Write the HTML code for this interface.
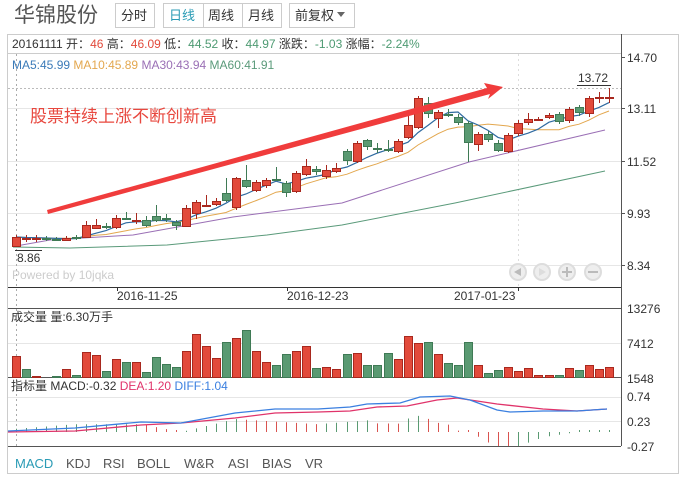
<!DOCTYPE html>
<html><head><meta charset="utf-8"><style>
body{margin:0;background:#fff;font-family:"Liberation Sans","Noto Sans CJK SC",sans-serif;}
svg{display:block}
</style></head><body>
<svg id="s" width="684" height="483" xmlns="http://www.w3.org/2000/svg" font-family="Liberation Sans, Noto Sans CJK SC, sans-serif">
<rect width="684" height="483" fill="#fff"/>
<text x="14" y="22" font-size="21" fill="#555">华锦股份</text>
<g font-size="13" fill="#333">
<rect x="115.5" y="3.5" width="39" height="24" fill="#fff" stroke="#ccc"/><text x="121" y="20">分时</text>
<rect x="163.5" y="3.5" width="118" height="24" fill="#fff" stroke="#ccc"/>
<line x1="203.5" y1="4" x2="203.5" y2="27" stroke="#ccc"/><line x1="242.5" y1="4" x2="242.5" y2="27" stroke="#ccc"/>
<text x="169" y="20" fill="#2a9bb5">日线</text><text x="208" y="20">周线</text><text x="248" y="20">月线</text>
<rect x="289.5" y="3.5" width="65" height="24" fill="#fff" stroke="#ccc"/><text x="295" y="20">前复权</text>
<path d="M337 12 L345 12 L341 17 Z" fill="#666"/>
</g>
<rect x="7.5" y="34.5" width="671" height="439" fill="none" stroke="#ccc"/>
<line x1="8" y1="53.5" x2="621" y2="53.5" stroke="#ccc"/>
<line x1="621.5" y1="34" x2="621.5" y2="446" stroke="#555"/>
<text x="12" y="48" font-size="12" fill="#333">20161111 开：<tspan fill="#e24a3b">46</tspan> 高：<tspan fill="#e24a3b">46.09</tspan> 低：<tspan fill="#4d9a72">44.52</tspan> 收：<tspan fill="#4d9a72">44.97</tspan> 涨跌：<tspan fill="#4d9a72">-1.03</tspan> 涨幅：<tspan fill="#4d9a72">-2.24%</tspan></text>
<text x="12" y="69" font-size="12"><tspan fill="#3a7ab8">MA5:45.99</tspan> <tspan fill="#e3a74e">MA10:45.89</tspan> <tspan fill="#9a6fb5">MA30:43.94</tspan> <tspan fill="#5a9a7a">MA60:41.91</tspan></text>
<g stroke="#e6e6e6"><line x1="8" y1="108.5" x2="621" y2="108.5"/><line x1="8" y1="161.5" x2="621" y2="161.5"/><line x1="8" y1="213.5" x2="621" y2="213.5"/><line x1="8" y1="265.5" x2="621" y2="265.5"/><line x1="8" y1="343.5" x2="621" y2="343.5"/><line x1="8" y1="397.5" x2="621" y2="397.5"/><line x1="8" y1="421.5" x2="621" y2="421.5"/></g>
<line x1="8" y1="88.5" x2="621" y2="88.5" stroke="#bbb" stroke-dasharray="2,2"/>
<line x1="16.5" y1="54" x2="16.5" y2="446" stroke="#aaa" stroke-dasharray="2,3"/>
<line x1="518.5" y1="54" x2="518.5" y2="287" stroke="#ddd" stroke-dasharray="2,3"/>
<g font-size="12" fill="#333">
<line x1="621" y1="57.5" x2="625" y2="57.5" stroke="#555"/><text x="627" y="62">14.70</text>
<line x1="621" y1="108.5" x2="625" y2="108.5" stroke="#555"/><text x="627" y="113">13.11</text>
<line x1="621" y1="161.5" x2="625" y2="161.5" stroke="#555"/><text x="627" y="166">11.52</text>
<line x1="621" y1="213.5" x2="625" y2="213.5" stroke="#555"/><text x="627" y="218">9.93</text>
<line x1="621" y1="265.5" x2="625" y2="265.5" stroke="#555"/><text x="627" y="270">8.34</text>
<text x="627" y="313">13276</text><text x="627" y="348">7412</text><text x="627" y="383">1548</text>
<text x="627" y="401">0.74</text><text x="627" y="426">0.23</text><text x="627" y="451">-0.27</text>
<text x="117" y="300">2016-11-25</text><text x="287" y="300">2016-12-23</text><text x="454" y="300">2017-01-23</text>
<text x="17" y="262">8.86</text><line x1="15" y1="250.5" x2="42" y2="250.5" stroke="#333"/>
<text x="578" y="82">13.72</text><line x1="577" y1="85.5" x2="611" y2="85.5" stroke="#333"/>
</g>
<text x="12" y="279" font-size="12" fill="#ccc">Powered by 10jqka</text>
<g fill="#eee" stroke="#ddd" stroke-width="2"><circle cx="518" cy="272" r="8"/><circle cx="542" cy="272" r="8"/><circle cx="567" cy="272" r="8"/><circle cx="593" cy="272" r="8"/></g>
<g fill="#bbb"><path d="M521 268 L514 272 L521 276Z"/><path d="M539 268 L546 272 L539 276Z" fill="#ddd"/><rect x="562" y="271" width="10" height="2"/><rect x="566" y="267" width="2" height="10"/><rect x="588" y="271" width="10" height="2"/></g>
<line x1="8" y1="287.5" x2="621" y2="287.5" stroke="#333"/>
<g stroke="#333"><line x1="117.5" y1="287" x2="117.5" y2="291"/><line x1="287.5" y1="287" x2="287.5" y2="291"/><line x1="518.5" y1="287" x2="518.5" y2="291"/></g>
<line x1="8" y1="308.5" x2="621" y2="308.5" stroke="#555"/>
<line x1="8" y1="377.5" x2="621" y2="377.5" stroke="#555"/>
<line x1="8" y1="446.5" x2="621" y2="446.5" stroke="#555"/>
<text x="11" y="321" font-size="12" fill="#333">成交量 量:6.30万手</text>
<text x="11" y="390" font-size="12" fill="#333">指标量 <tspan>MACD:-0.32</tspan> <tspan fill="#e0336a">DEA:1.20</tspan> <tspan fill="#3a7fe0">DIFF:1.04</tspan></text>
<g font-size="13" fill="#555"><text x="15" y="468" fill="#2a9bb5">MACD</text><text x="66" y="468">KDJ</text><text x="103" y="468">RSI</text><text x="137" y="468">BOLL</text><text x="184" y="468">W&amp;R</text><text x="228" y="468">ASI</text><text x="262" y="468">BIAS</text><text x="305" y="468">VR</text></g>
<g id="dyn"></g>
<text x="30" y="122" font-size="17" fill="#e8483f">股票持续上涨不断创新高</text>
<path d="M48 214 L490 94 L488 99 L503 87 L484 83 L487 88 L47 210 Z" fill="#f03c3c"/>
</svg>
<script>
var NS="http://www.w3.org/2000/svg",g=document.getElementById("dyn");
function el(t,a){var e=document.createElementNS(NS,t);for(var k in a)e.setAttribute(k,a[k]);g.appendChild(e);return e;}
var C=[[16,237,246,1,235,247],[26,238,239,1,235,242],[36,238,239,1,235,242],[46,238,239,0,236,241],[56,239,240,0,237,241],[66,238,240,1,236,241],[76,237,238,0,235,240],[86,225,237,1,221,238],[96,225,228,1,219,229],[106,226,227,0,223,229],[116,218,227,1,215,229],[126,218,219,0,212,220],[136,220,221,1,213,224],[146,220,225,0,216,227],[156,216,220,0,205,222],[166,218,219,0,214,222],[176,222,225,0,220,230],[186,208,226,1,205,227],[196,202,213,1,200,219],[206,205,206,1,195,207],[216,201,204,1,198,206],[226,193,200,0,178,202],[236,178,207,1,177,210],[246,180,186,0,165,188],[256,182,190,1,180,192],[266,180,185,1,178,188],[276,179,180,0,167,181],[286,183,192,0,181,197],[296,173,191,1,171,193],[306,166,174,1,159,176],[316,169,171,0,166,175],[326,170,176,1,165,179],[336,168,171,1,163,173],[347,151,160,0,149,165],[357,143,161,1,141,163],[367,140,146,0,139,150],[377,148,149,0,143,153],[388,149,150,0,140,152],[398,141,151,1,139,153],[408,125,137,1,112,139],[418,98,127,1,96,129],[428,103,113,0,97,118],[438,112,118,1,110,128],[448,114,115,0,109,117],[458,117,122,0,114,125],[468,123,142,0,121,162],[478,134,144,1,132,151],[488,134,139,0,131,142],[498,143,150,0,140,152],[508,135,151,1,133,153],[518,123,133,1,120,136],[528,119,122,1,113,125],[538,119,120,1,117,121],[549,115,117,1,113,119],[559,114,121,0,112,124],[569,109,120,1,107,123],[579,107,112,0,105,116],[589,98,113,1,96,117],[599,97,98,1,92,103],[609,97,98,1,88,103]];
var close=C.map(function(c){return c[3]?c[1]:c[2];});
function ma(n){var p=[];for(var i=0;i<C.length;i++){var s=0,k=0;for(var j=Math.max(0,i-n+1);j<=i;j++){s+=close[j];k++;}p.push(C[i][0]+","+(s/k).toFixed(1));}return p.join(" ");}
el("polyline",{points:"13,247 70,248 167,245 267,235 342,225 455,203 605,171",fill:"none",stroke:"#5a9a7a","stroke-width":1});
el("polyline",{points:"16,246 50,240 133,235 233,217 342,203 469,162 605,130",fill:"none",stroke:"#9a6fb5","stroke-width":1});
el("polyline",{points:ma(10),fill:"none",stroke:"#e3a74e","stroke-width":1});
el("polyline",{points:ma(5),fill:"none",stroke:"#2f6aa0","stroke-width":1.2});
C.forEach(function(c){var col=c[3]?"#e24a3b":"#5a9a72",st=c[3]?"#a8281e":"#3f7a55";
el("line",{x1:c[0]+.5,y1:c[4],x2:c[0]+.5,y2:c[5],stroke:st});
el("rect",{x:c[0]-3.5,y:c[1]+.5,width:8,height:Math.max(1,c[2]-c[1]),fill:col,stroke:st});});
var V=[356,369,376,377,376,369,375,352,355,371,359,362,362,372,357,364,367,351,334,346,358,342,338,330,351,362,365,354,351,346,368,367,369,354,353,365,365,353,359,336,343,342,354,363,365,342,365,373,370,367,371,368,375,375,375,368,370,365,369,367];
var VC=[1,0,1,0,0,1,0,1,1,0,1,0,1,0,0,0,0,1,1,1,1,0,1,0,1,1,0,0,1,1,0,1,1,0,1,0,0,0,1,1,1,0,1,0,0,0,1,0,0,1,1,1,1,1,0,1,0,1,1,1];
V.forEach(function(v,i){var x=C[i][0];el("rect",{x:x-3.5,y:v+.5,width:8,height:377-v,fill:VC[i]?"#e24a3b":"#5a9a72",stroke:VC[i]?"#a8281e":"#3f7a55"});});
var B=[[8,431],[75,428],[141,422],[181,423],[235,413],[275,409],[318,409],[350,407],[367,404],[400,403],[420,397],[450,396],[470,400],[497,410],[510,412],[543,411],[577,411],[607,409]];
var P=[[8,432],[75,431],[141,425],[181,423],[235,418],[275,413],[318,412],[350,411],[377,407],[407,406],[437,400],[457,398],[497,404],[543,409],[577,411],[607,409]];
function interp(a,x){for(var i=1;i<a.length;i++)if(x<=a[i][0]){var t=(x-a[i-1][0])/(a[i][0]-a[i-1][0]);return a[i-1][1]+t*(a[i][1]-a[i-1][1]);}return a[a.length-1][1];}
var prev=0;
C.forEach(function(c,i){var d=(interp(P,c[0])-interp(B,c[0]))*2.6;var col=d>=prev?"#5a9a72":"#d9534f";prev=d;if(Math.abs(d)<1)d=d<0?-2:2;var y2=432-d;
el("line",{x1:c[0]+.5,y1:432,x2:c[0]+.5,y2:Math.max(415,Math.min(446,y2)),stroke:col});});
el("polyline",{points:P.map(function(p){return p.join(",")}).join(" "),fill:"none",stroke:"#e0336a","stroke-width":1.3});
el("polyline",{points:B.map(function(p){return p.join(",")}).join(" "),fill:"none",stroke:"#3a7fe0","stroke-width":1.3});
</script>
</body></html>
